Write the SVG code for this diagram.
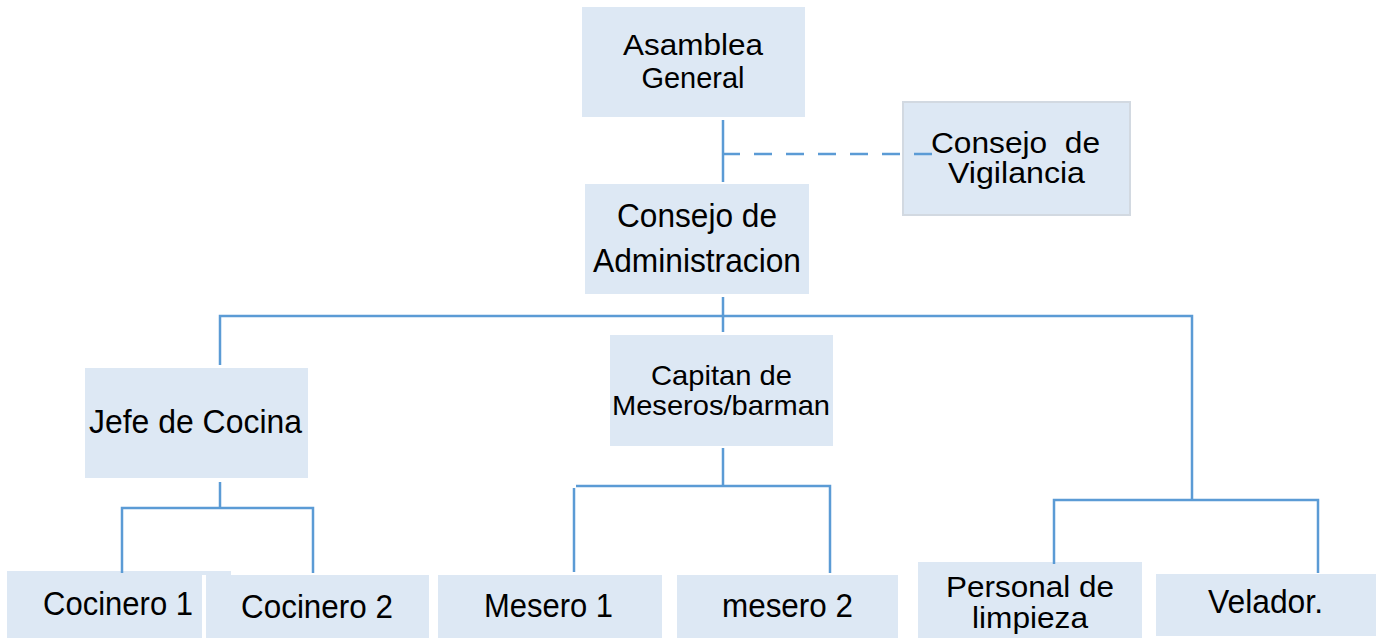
<svg xmlns="http://www.w3.org/2000/svg" width="1376" height="638" viewBox="0 0 1376 638">
<style>
.box{fill:#dde8f4}
.t{font-family:"Liberation Sans",Arial,sans-serif;font-size:33px;fill:#000;text-anchor:middle}
.m{font-size:29px}
.s{font-size:28px}
.c{fill:none;stroke:#5b9bd5;stroke-width:2.5}
.d{stroke-dasharray:18 14}
</style>
<rect width="1376" height="638" fill="#fff"/>
<g id="asamblea">
<rect class="box" x="582" y="7" width="223" height="110"/>
<text class="t m" x="693" y="55" textLength="140" lengthAdjust="spacingAndGlyphs">Asamblea</text>
<text class="t m" x="693" y="88" textLength="103" lengthAdjust="spacingAndGlyphs">General</text>
</g>
<g id="vigilancia">
<rect class="box" x="903" y="102" width="227" height="113" stroke="#d2d9e1" stroke-width="2"/>
<text class="t m" x="1015.5" y="153" textLength="169" lengthAdjust="spacingAndGlyphs" xml:space="preserve">Consejo  de</text>
<text class="t m" x="1016.5" y="183" textLength="137" lengthAdjust="spacingAndGlyphs">Vigilancia</text>
</g>
<g id="administracion">
<rect class="box" x="585" y="184" width="224" height="110"/>
<text class="t" x="697" y="227" textLength="160" lengthAdjust="spacingAndGlyphs">Consejo de</text>
<text class="t" x="697" y="272" textLength="208" lengthAdjust="spacingAndGlyphs">Administracion</text>
</g>
<g id="jefe">
<rect class="box" x="85" y="368" width="223" height="110"/>
<text class="t" x="195.5" y="433" textLength="213" lengthAdjust="spacingAndGlyphs">Jefe de Cocina</text>
</g>
<g id="capitan">
<rect class="box" x="610" y="335" width="223" height="111"/>
<text class="t s" x="721.5" y="385" textLength="141" lengthAdjust="spacingAndGlyphs">Capitan de</text>
<text class="t s" x="721" y="415" textLength="218" lengthAdjust="spacingAndGlyphs">Meseros/barman</text>
</g>
<g id="cocinero1">
<rect class="box" x="7" y="571" width="224" height="67"/>
<text class="t" x="118" y="615" textLength="150" lengthAdjust="spacingAndGlyphs">Cocinero 1</text>
</g>
<g id="cocinero2">
<rect x="202" y="575" width="4" height="63" fill="#fff"/>
<rect class="box" x="206" y="575" width="223" height="63"/>
<text class="t" x="317" y="618" textLength="152" lengthAdjust="spacingAndGlyphs">Cocinero 2</text>
</g>
<g id="mesero1">
<rect class="box" x="438" y="575" width="224" height="63"/>
<text class="t" x="548.5" y="617" textLength="129" lengthAdjust="spacingAndGlyphs">Mesero 1</text>
</g>
<g id="mesero2">
<rect class="box" x="677" y="575" width="221" height="63"/>
<text class="t" x="787.5" y="617" textLength="131" lengthAdjust="spacingAndGlyphs">mesero 2</text>
</g>
<g id="personal">
<rect class="box" x="918" y="562" width="224" height="76"/>
<text class="t m" x="1030" y="597" textLength="168" lengthAdjust="spacingAndGlyphs">Personal de</text>
<text class="t m" x="1030" y="628" textLength="116" lengthAdjust="spacingAndGlyphs">limpieza</text>
</g>
<g id="velador">
<rect class="box" x="1156" y="574" width="220" height="62"/>
<text class="t" x="1265.5" y="613" textLength="115" lengthAdjust="spacingAndGlyphs">Velador.</text>
</g>
<g id="connectors">
<path class="c" d="M723 120V182"/>
<path class="c d" d="M722 154H932"/>
<path class="c" d="M723 297V316"/>
<path class="c" d="M220 365V316H1192V500"/>
<path class="c" d="M723 316V332"/>
<path class="c" d="M220 482V508"/>
<path class="c" d="M122 573V508H313V573"/>
<path class="c" d="M723 448V486"/>
<path class="c" d="M576 486H830V573"/>
<path class="c" d="M574 488V572"/>
<path class="c" d="M1054 564V500H1318V573"/>
</g>
</svg>
